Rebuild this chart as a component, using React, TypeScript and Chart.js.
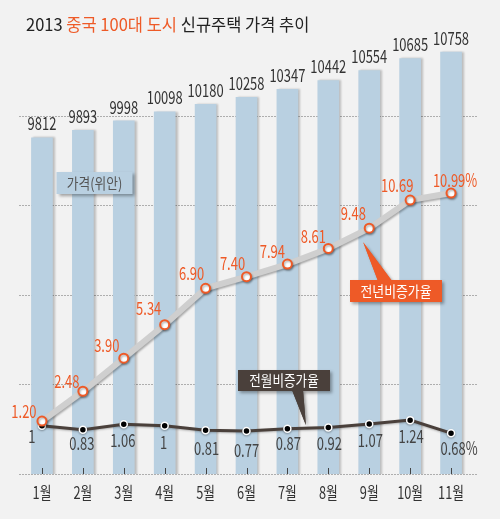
import React, { useEffect, useRef } from "react";
import { Chart, registerables } from "chart.js";

Chart.register(...registerables);

const months = ["1월", "2월", "3월", "4월", "5월", "6월", "7월", "8월", "9월", "10월", "11월"];
const prices = [9812, 9893, 9998, 10098, 10180, 10258, 10347, 10442, 10554, 10685, 10758];
const yoy = [1.2, 2.48, 3.9, 5.34, 6.9, 7.4, 7.94, 8.61, 9.48, 10.69, 10.99];
const mom = [1, 0.83, 1.06, 1, 0.81, 0.77, 0.87, 0.92, 1.07, 1.24, 0.68];
const yoyText = ["1.20", "2.48", "3.90", "5.34", "6.90", "7.40", "7.94", "8.61", "9.48", "10.69", "10.99%"];
const momText = ["1", "0.83", "1.06", "1", "0.81", "0.77", "0.87", "0.92", "1.07", "1.24", "0.68%"];
const gridTicks = [0, 1, 2, 3, 4];

const ORANGE = "#ee5a27";
const BAR = "#b9d0e1";
const DARK = "#4a403b";
const FONT = '"Noto Sans CJK KR", "Noto Sans", sans-serif';

// label offsets (pixels) relative to each point
const yoyOff = [[-18, -10], [-16, -10], [-17, -13], [-16, -16], [-14, -15], [-14, -13], [-15, -13], [-15, -12], [-16, -15], [-13, -15], [4, -13]];
const momOff = [[-10, 11], [-1, 14], [-1, 16], [-1, 17], [1, 18], [0, 19], [1, 15], [1, 16], [1, 16], [1, 16], [8, 15]];

function txt(ctx: CanvasRenderingContext2D, s: string, x: number, cy: number, size: number, color: string, sx: number) {
  ctx.save();
  ctx.font = `400 ${size}px ${FONT}`;
  ctx.fillStyle = color;
  ctx.textAlign = "center";
  ctx.textBaseline = "alphabetic";
  ctx.translate(x, cy + size * 0.37);
  ctx.scale(sx, 1);
  ctx.fillText(s, 0, 0);
  ctx.restore();
}

function box(ctx: CanvasRenderingContext2D, x: number, y: number, w: number, h: number, fill: string, tail?: number[][]) {
  ctx.save();
  ctx.shadowColor = "rgba(0,0,0,0.35)";
  ctx.shadowOffsetX = 2;
  ctx.shadowOffsetY = 2;
  ctx.shadowBlur = 3;
  ctx.fillStyle = fill;
  ctx.beginPath();
  ctx.rect(x, y, w, h);
  ctx.fill();
  if (tail) {
    ctx.beginPath();
    ctx.moveTo(tail[0][0], tail[0][1]);
    ctx.lineTo(tail[1][0], tail[1][1]);
    ctx.lineTo(tail[2][0], tail[2][1]);
    ctx.closePath();
    ctx.fill();
  }
  ctx.restore();
  if (tail) {
    ctx.save();
    ctx.fillStyle = fill;
    ctx.beginPath();
    ctx.rect(x, y, w, h);
    ctx.moveTo(tail[0][0], tail[0][1]);
    ctx.lineTo(tail[1][0], tail[1][1]);
    ctx.lineTo(tail[2][0], tail[2][1]);
    ctx.closePath();
    ctx.fill();
    ctx.restore();
  }
}

const decor = {
  id: "decor",
  beforeDraw(chart: any) {
    const ctx = chart.ctx;
    ctx.save();
    ctx.fillStyle = "#f2f2f2";
    ctx.fillRect(0, 0, chart.width, chart.height);
    ctx.restore();
  },
  beforeDatasetsDraw(chart: any) {
    const ctx = chart.ctx;
    const g = chart.scales.yGrid;
    const a = chart.chartArea;
    ctx.save();
    ctx.strokeStyle = "#6a6a6a";
    ctx.lineWidth = 1;
    ctx.setLineDash([1, 2]);
    gridTicks.forEach((t) => {
      const y = Math.round(g.getPixelForValue(t)) + 0.5;
      ctx.beginPath();
      ctx.moveTo(a.left - 2, y);
      ctx.lineTo(a.right + 5, y);
      ctx.stroke();
    });
    ctx.restore();
  },
  beforeDatasetDraw(chart: any, args: any) {
    const ctx = chart.ctx;
    ctx.save();
    if (args.index === 0) {
      ctx.shadowColor = "rgba(0,0,0,0.22)";
      ctx.shadowOffsetX = 2;
      ctx.shadowBlur = 2;
    } else if (args.index === 2) {
      ctx.shadowColor = "rgba(0,0,0,0.3)";
      ctx.shadowOffsetX = 1;
      ctx.shadowOffsetY = 1.5;
      ctx.shadowBlur = 2;
    } else {
      ctx.shadowColor = "rgba(0,0,0,0.25)";
      ctx.shadowOffsetY = 1;
      ctx.shadowBlur = 2;
    }
  },
  afterDatasetDraw(chart: any) {
    chart.ctx.restore();
  },
  afterDatasetsDraw(chart: any) {
    const ctx = chart.ctx;
    const xs = chart.scales.x;
    const yb = chart.scales.yBar;
    const yp = chart.scales.yPct;
    const a = chart.chartArea;

    // baseline ticks
    ctx.save();
    ctx.strokeStyle = "#444";
    ctx.lineWidth = 1;
    months.forEach((_, i) => {
      const x = Math.round(xs.getPixelForValue(i)) + 0.5;
      ctx.beginPath();
      ctx.moveTo(x, a.bottom - 6);
      ctx.lineTo(x, a.bottom);
      ctx.stroke();
    });
    ctx.restore();

    // bar labels
    prices.forEach((v, i) => {
      txt(ctx, String(v), xs.getPixelForValue(i), yb.getPixelForValue(v) - 14, 18, "#333", 0.72);
    });
    // yoy labels
    yoy.forEach((v, i) => {
      txt(ctx, yoyText[i], xs.getPixelForValue(i) + yoyOff[i][0], yp.getPixelForValue(v) + yoyOff[i][1], 18, ORANGE, 0.72);
    });
    // mom labels
    mom.forEach((v, i) => {
      txt(ctx, momText[i], xs.getPixelForValue(i) + momOff[i][0], yp.getPixelForValue(v) + momOff[i][1], 18, "#444", 0.72);
    });
    // x labels
    months.forEach((m, i) => {
      txt(ctx, m, xs.getPixelForValue(i), a.bottom + 19, 17, "#333", 0.75);
    });

    // price legend box
    const bx = a.left + 35;
    box(ctx, bx, 172, 76, 22, BAR);
    txt(ctx, "가격(위안)", bx + 38, 183, 15, "#555", 0.85);

    // yoy callout
    const tipX = xs.getPixelForValue(8) - 6;
    const tipY = yp.getPixelForValue(9.48) + 14;
    box(ctx, 350, 280, 92, 22, ORANGE, [[378, 281], [tipX, tipY], [392, 281]]);
    txt(ctx, "전년비증가율", 396, 291, 15, "#fff", 0.86);

    // mom callout
    const mx = (xs.getPixelForValue(6) + xs.getPixelForValue(7)) / 2 - 2;
    const my = yp.getPixelForValue(0.9) - 3;
    box(ctx, 238, 370, 92, 21, DARK, [[292, 390], [mx, my], [303, 390]]);
    txt(ctx, "전월비증가율", 284, 380.5, 15, "#fff", 0.84);
  },
};

export default function App() {
  const ref = useRef<HTMLCanvasElement>(null);
  useEffect(() => {
    if (!ref.current) return;
    const chart = new Chart(ref.current, {
      type: "bar",
      data: {
        labels: months,
        datasets: [
          {
            type: "bar",
            data: prices,
            yAxisID: "yBar",
            backgroundColor: BAR,
            barThickness: 21,
            order: 3,
          } as any,
          {
            type: "line",
            data: mom,
            yAxisID: "yPct",
            borderColor: DARK,
            borderWidth: 3,
            tension: 0,
            pointRadius: 3.5,
            pointBackgroundColor: "#000",
            pointBorderColor: "#fff",
            pointBorderWidth: 1.5,
            order: 2,
          } as any,
          {
            type: "line",
            data: yoy,
            yAxisID: "yPct",
            borderColor: "#cfcfcf",
            borderWidth: 6,
            tension: 0,
            pointRadius: 4.5,
            pointBackgroundColor: "#fff",
            pointBorderColor: ORANGE,
            pointBorderWidth: 2,
            order: 1,
          } as any,
        ],
      },
      options: {
        responsive: false,
        animation: false,
        devicePixelRatio: 1,
        layout: { padding: { left: 21.5, right: 28.5, top: 40, bottom: 45 } },
        scales: {
          x: { type: "category", display: false, offset: true },
          yBar: { type: "linear", display: false, min: 6100, max: 10891 },
          yPct: { type: "linear", display: false, min: -1.073, max: 17.561 },
          yGrid: { type: "linear", display: false, min: 0, max: 4.849 },
        },
        plugins: { legend: { display: false }, tooltip: { enabled: false } },
      } as any,
      plugins: [decor as any],
    });
    return () => chart.destroy();
  }, []);

  return (
    <div style={{ position: "absolute", left: 0, top: 0, width: 500, height: 519, background: "#f2f2f2", overflow: "hidden" }}>
      <canvas ref={ref} width={500} height={519} style={{ display: "block" }} />
      <div
        style={{
          position: "absolute",
          left: 26,
          top: 11,
          fontFamily: FONT,
          fontSize: 17,
          lineHeight: "26px",
          color: "#222",
          whiteSpace: "nowrap",
          transform: "scaleX(0.97)",
          transformOrigin: "left center",
        }}
      >
        2013 <span style={{ color: ORANGE }}>중국 100대 도시</span> 신규주택 가격 추이
      </div>
    </div>
  );
}
